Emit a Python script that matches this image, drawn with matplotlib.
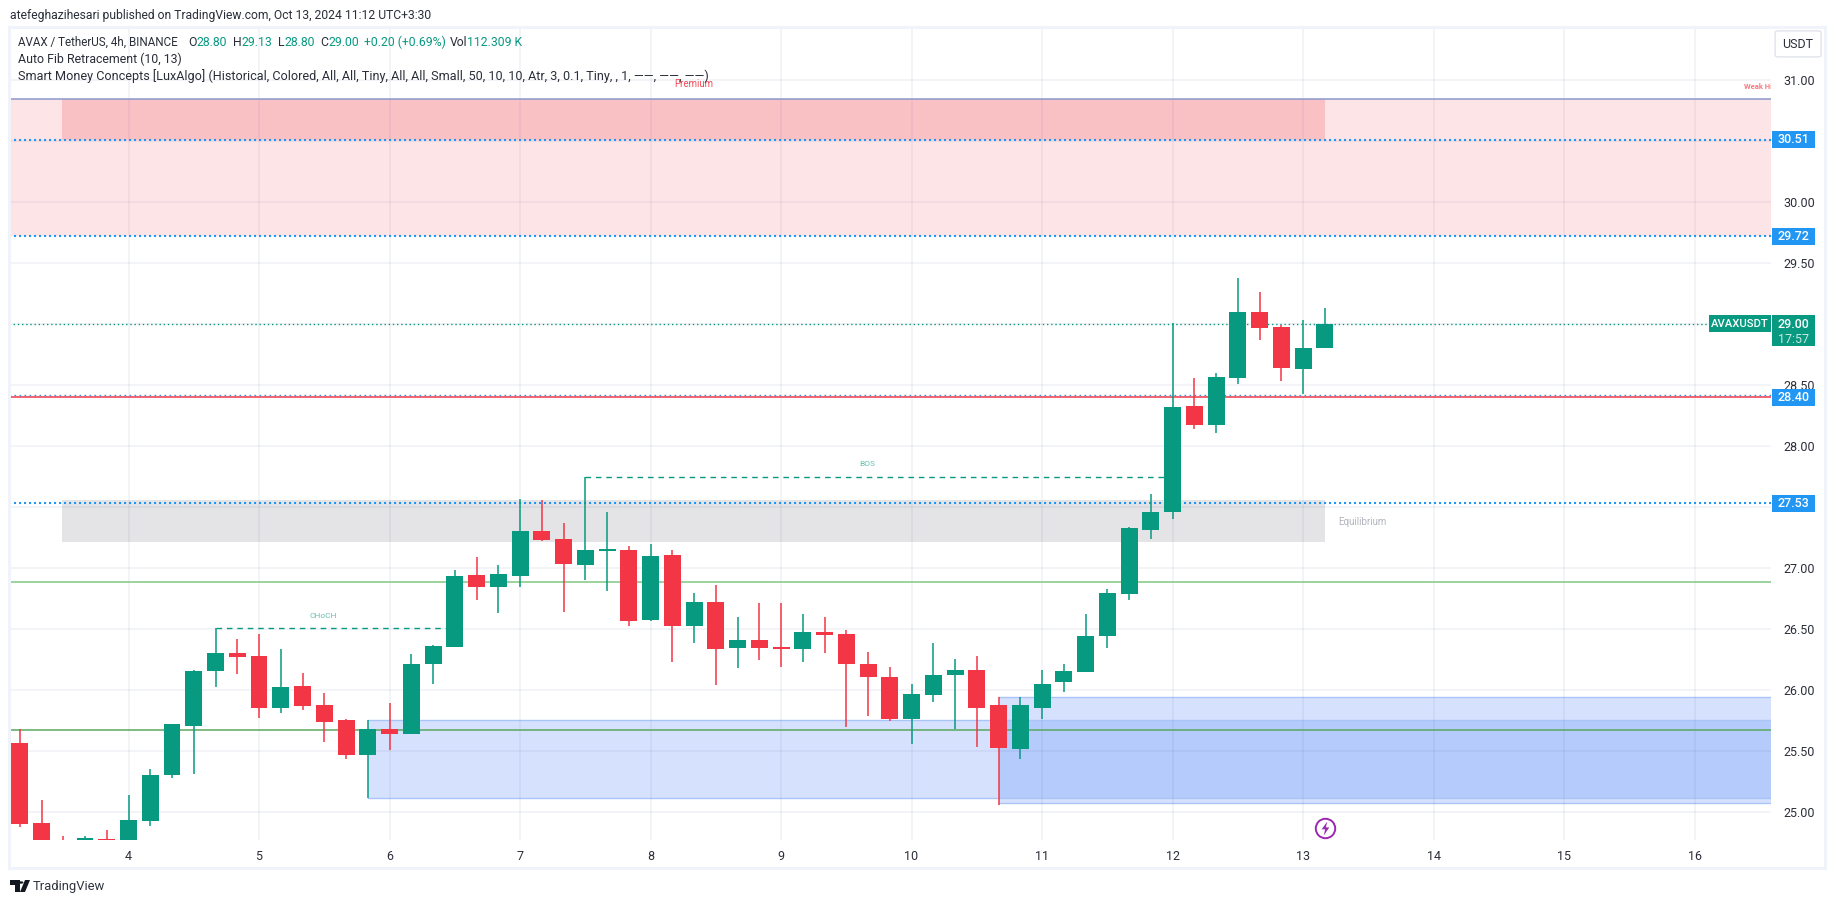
#!/usr/bin/env python3
# AVAX / USDT 4h chart, TradingView style
import numpy as np
import matplotlib
matplotlib.use('Agg')
import matplotlib.pyplot as plt
from matplotlib.patches import Rectangle, FancyBboxPatch, Polygon, Circle

plt.rcParams['font.family'] = ['Roboto', 'DejaVu Sans']

W, H = 1835, 903

# candles, one every 4 hours (6 per day), first one is day 3 + 4h
first_day = 3 + 1 / 6
opens = [25.565, 24.91, 24.74, 24.70, 24.78, 24.72, 24.926, 25.303, 25.705, 26.155,
         26.303, 26.278, 25.852, 26.032, 25.877, 25.754, 25.467, 25.68, 25.639, 26.213,
         26.352, 26.942, 26.844, 26.934, 27.303, 27.237, 27.024, 27.14, 27.147, 26.574,
         27.106, 26.524, 26.721, 26.344, 26.41, 26.352, 26.336, 26.475, 26.459, 26.213,
         26.106, 25.762, 25.959, 26.123, 26.164, 25.877, 25.516, 25.852, 26.065, 26.147,
         26.44, 26.787, 27.312, 27.459, 28.328, 28.173, 28.558, 29.099, 28.976, 28.632, 28.80]
highs = [25.677, 25.098, 24.80, 24.80, 24.852, 25.139, 25.352, 25.721, 26.164, 26.505,
         26.418, 26.459, 26.336, 26.139, 25.975, 25.762, 25.754, 25.893, 26.295, 26.369,
         26.983, 27.09, 27.024, 27.565, 27.557, 27.369, 27.743, 27.459, 27.18, 27.197,
         27.147, 26.795, 26.86, 26.598, 26.713, 26.713, 26.623, 26.598, 26.492, 26.311,
         26.188, 26.049, 26.385, 26.254, 26.279, 25.942, 25.942, 26.164, 26.213, 26.623,
         26.83, 27.336, 27.607, 29.009, 28.558, 28.599, 29.377, 29.263, 28.992, 29.033, 29.132]
lows = [24.88, 24.70, 24.55, 24.65, 24.70, 24.70, 24.885, 25.278, 25.311, 26.024,
        26.131, 25.77, 25.811, 25.836, 25.573, 25.434, 25.114, 25.508, 25.639, 26.049,
        26.352, 26.737, 26.631, 26.844, 27.221, 26.639, 26.90, 26.811, 26.524, 26.565,
        26.229, 26.385, 26.041, 26.18, 26.246, 26.188, 26.229, 26.303, 25.696, 25.787,
        25.746, 25.557, 25.902, 25.68, 25.533, 25.06, 25.434, 25.762, 25.983, 26.147,
        26.347, 26.738, 27.238, 27.402, 28.14, 28.107, 28.509, 28.869, 28.533, 28.427, 28.80]
closes = [24.904, 24.72, 24.60, 24.787, 24.75, 24.934, 25.303, 25.721, 26.155, 26.303,
          26.27, 25.852, 26.024, 25.869, 25.737, 25.467, 25.68, 25.639, 26.213, 26.36,
          26.934, 26.844, 26.95, 27.303, 27.229, 27.032, 27.147, 27.15, 26.565, 27.098,
          26.524, 26.721, 26.336, 26.41, 26.344, 26.336, 26.475, 26.451, 26.213, 26.106,
          25.762, 25.967, 26.123, 26.164, 25.852, 25.524, 25.877, 26.049, 26.156, 26.442,
          26.795, 27.328, 27.459, 28.32, 28.173, 28.566, 29.099, 28.968, 28.64, 28.804, 29.00]

price_ticks = [25, 25.5, 26, 26.5, 27, 27.5, 28, 28.5, 29, 29.5, 30, 30.5, 31]
# these three sit behind the coloured price tags
price_tick_labels = ['25.00', '25.50', '26.00', '26.50', '27.00', '', '28.00', '28.50', '', '29.50', '30.00', '', '31.00']
day_ticks = list(range(4, 17))

# levels and zones
fib_top = 30.847
premium_zone = (29.72, 30.847)
premium_block = (30.51, 30.847, 3.49, 13.17)
equilibrium_block = (27.214, 27.555, 3.49, 13.17)
demand_a = (25.117, 25.754, 5.833)
demand_b = (25.076, 25.94, 10.667)
fib_levels = [30.51, 29.72, 27.53]
fib_level_mid = 28.415
red_level = 28.40
green_light = 26.885
green_dark = 25.67
last_price = 29.00
choch = (4.667, 6.5, 26.505)
bos = (7.5, 12.0, 27.744)

GREEN = '#089981'
RED = '#f23645'
BLUE = '#2196f3'
GRID = '#f0f3fa'
TEXT = '#2a2e39'

# the extra 0.1 stops the pixel size being floored to 902
fig = plt.figure(figsize=((W + 0.1) / 100, (H + 0.1) / 100), dpi=100, facecolor='white')

def px(x, y):
    return x / W, 1 - y / H

# main pane
ax = fig.add_axes([9 / W, 1 - 840 / H, (1771 - 9) / W, (840 - 27) / H])
ax.set_xlim(4 + (9 - 128.5) / 130.5, 4 + (1771 - 128.5) / 130.5)
ax.set_ylim(31 - (840 - 80) / 122, 31 + (80 - 27) / 122)
for s in ax.spines.values():
    s.set_visible(False)

ax.yaxis.tick_right()
ax.set_yticks(price_ticks)
ax.set_yticklabels(price_tick_labels, fontsize=9, color=TEXT)
ax.set_xticks(day_ticks)
ax.set_xticklabels([str(d) for d in day_ticks], fontsize=9, color=TEXT)
ax.tick_params(axis='both', length=0)
ax.tick_params(axis='y', pad=9)
ax.tick_params(axis='x', pad=7)
ax.grid(True, color='#2a3a7a', alpha=0.07, lw=1.1)
ax.set_axisbelow('line')

# zones
xr = ax.get_xlim()[1]
ax.axhspan(premium_zone[0], premium_zone[1], color=RED, alpha=0.135, lw=0, zorder=1)
ax.add_patch(Rectangle((premium_block[2], premium_block[0]), premium_block[3] - premium_block[2],
                       premium_block[1] - premium_block[0], fc=RED, alpha=0.2, lw=0, zorder=1))
ax.add_patch(Rectangle((equilibrium_block[2], equilibrium_block[0]), equilibrium_block[3] - equilibrium_block[2],
                       equilibrium_block[1] - equilibrium_block[0], fc='#787b86', alpha=0.2, lw=0, zorder=1))
for low, top, start in (demand_a, demand_b):
    ax.add_patch(Rectangle((start, low), xr - start, top - low, fc='#2a6af5', ec='none', alpha=0.19, zorder=1))
    ax.plot([start, xr], [top, top], color='#a9c5f8', lw=1, zorder=1.2)
    ax.plot([start, xr], [low, low], color='#a9c5f8', lw=1, zorder=1.2)

# levels
ax.axhline(fib_top, color='#8c99cc', lw=1.1, zorder=2)
ax.axhline(green_light, color='#81c784', lw=1.1, zorder=2)
ax.axhline(green_dark, color='#5aa85f', lw=1.1, zorder=2)
ax.axhline(red_level, color=RED, lw=1.1, zorder=2)
ax.axhline(fib_level_mid, color='#3f8fe0', lw=1, ls=(0, (1.2, 2.4)), zorder=2.1)
for lev in fib_levels:
    ax.axhline(lev, color=BLUE, lw=1.5, ls=(0, (1, 1.4)), zorder=2)
ax.axhline(last_price, color=GREEN, lw=1, ls=(0, (1, 2)), zorder=2)

# structure lines
ax.plot(choch[:2], [choch[2]] * 2, color=GREEN, lw=1, ls=(0, (4, 3.5)), zorder=2)
ax.plot(bos[:2], [bos[2]] * 2, color=GREEN, lw=1, ls=(0, (4, 3.5)), zorder=2)

# candles
o = np.array(opens)
c = np.array(closes)
days = first_day + np.arange(len(o)) / 6
cols = [GREEN if b >= a else RED for a, b in zip(o, c)]
ax.vlines(days, lows, highs, colors=cols, lw=1.1, zorder=3)
ax.bar(days, np.maximum(np.abs(c - o), 0.012), bottom=np.minimum(o, c), width=0.13, color=cols, lw=0, zorder=3.1)

# labels inside the pane
ax.text(4 + (323 - 128.5) / 130.5, choch[2] + 0.105, 'CHoCH', color='#66c2b0', fontsize=6, ha='center', va='center')
ax.text(4 + (867 - 128.5) / 130.5, bos[2] + 0.105, 'BOS', color='#66c2b0', fontsize=6, ha='center', va='center')
ax.text(4 + (1362 - 128.5) / 130.5, 27.38, 'Equilibrium', color='#b2b5be', fontsize=7, ha='center', va='center')
ax.text(4 + (694 - 128.5) / 130.5, 30.97, 'Premium', color=RED, fontsize=7, ha='center', va='center', alpha=0.9)
ax.text(4 + (1744 - 128.5) / 130.5, 30.95, 'Weak High', color='#f77c80', fontsize=5.5, ha='left', va='center',
        clip_on=True, fontweight='bold')

# lightning mark
bolt = [(0.25, 1), (-0.55, -0.12), (-0.05, -0.12), (-0.25, -1), (0.55, 0.16), (0.05, 0.16)]
ax.plot([13.167], [24.865], marker='o', ms=14, mfc='white', mec='#9c27b0', mew=1.4, zorder=4)
ax.plot([13.167], [24.865], marker=bolt, ms=10, mfc='#9c27b0', mew=0, zorder=5)

# price tags on the axis
trans = ax.get_yaxis_transform()
tag_w = 43 / 1762
tag_h = 17 / 122
def price_tag(val, label, col):
    ax.add_patch(Rectangle((1 + 1 / 1762, val - tag_h / 2), tag_w, tag_h, transform=trans, fc=col, lw=0,
                           clip_on=False, zorder=10))
    ax.text(1 + 1 / 1762 + tag_w / 2, val, label, transform=trans, color='white', fontsize=9, fontweight='medium',
            ha='center', va='center', clip_on=False, zorder=11)

for lev, lab in ((30.51, '30.51'), (29.72, '29.72'), (28.40, '28.40'), (27.53, '27.53')):
    price_tag(lev, lab, BLUE)

ax.add_patch(Rectangle((1 + 1 / 1762, last_price - tag_h / 2 - 14 / 122), tag_w, tag_h + 14 / 122, transform=trans,
                       fc=GREEN, lw=0, clip_on=False, zorder=10))
ax.text(1 + 1 / 1762 + tag_w / 2, last_price, '29.00', transform=trans, color='white', fontsize=9, fontweight='medium',
        ha='center', va='center', clip_on=False, zorder=11)
ax.text(1 + 1 / 1762 + tag_w / 2, last_price - 15 / 122, '17:57', transform=trans, color='#c8e8e0', fontsize=9,
        ha='center', va='center', clip_on=False, zorder=11)
ax.add_patch(Rectangle((1 - 62 / 1762, last_price - tag_h / 2), 62 / 1762, tag_h, transform=trans, fc=GREEN, lw=0,
                       zorder=10))
ax.text(1 - 31 / 1762, last_price, 'AVAXUSDT', transform=trans, color='white', fontsize=8.1, fontweight='medium',
        ha='center', va='center', zorder=11)

# outer frame
fx, fy = px(9, 868)
fig.add_artist(Rectangle((fx, fy), 1816 / W, 841 / H, transform=fig.transFigure, fc='none', ec=GRID, lw=2.2))

# USDT button
bx, by = px(1775, 57)
fig.add_artist(FancyBboxPatch((bx, by), 46 / W, 26 / H, boxstyle='round,pad=0,rounding_size=0.002',
                              transform=fig.transFigure, fc='white', ec='#e0e3eb', lw=1))
fig.text(*px(1798, 44), 'USDT', fontsize=9, color=TEXT, ha='center', va='center')

# header text
fig.text(*px(10, 15), 'atefeghazihesari published on TradingView.com, Oct 13, 2024 11:12 UTC+3:30',
         fontsize=8.7, color=TEXT, va='center')
fig.text(*px(18, 42), 'AVAX / TetherUS, 4h, BINANCE', fontsize=8.4, color=TEXT, va='center')
legend_bits = [(188, 'O', TEXT), (196, '28.80', GREEN),
               (233, 'H', TEXT), (241, '29.13', GREEN), (278, 'L', TEXT), (284, '28.80', GREEN),
               (320, 'C', TEXT), (328, '29.00', GREEN), (364, '+0.20 (+0.69%)', GREEN),
               (450, 'Vol', TEXT), (467, '112.309 K', GREEN)]
for x0, s, col in legend_bits:
    fig.text(*px(x0, 42), s, fontsize=8.8, color=col, va='center')
fig.text(*px(18, 59), 'Auto Fib Retracement (10, 13)', fontsize=8.9, color=TEXT, va='center')
fig.text(*px(18, 76), 'Smart Money Concepts [LuxAlgo] (Historical, Colored, All, All, Tiny, All, All, Small, 50, 10, 10, '
         'Atr, 3, 0.1, Tiny, , 1, \u2014\u2014, \u2014\u2014, \u2014\u2014)', fontsize=9.1, color=TEXT, va='center')

# footer logo
logo = '#131722'
fig.add_artist(Polygon([px(10, 880), px(20, 880), px(20, 892), px(15, 892), px(15, 885), px(10, 885)],
                       transform=fig.transFigure, fc=logo, lw=0))
fig.add_artist(Polygon([px(25, 880), px(30, 880), px(25, 892), px(20, 892)], transform=fig.transFigure, fc=logo, lw=0))
fig.add_artist(Circle(px(21, 882.5), 2.4 / W, transform=fig.transFigure, fc=logo, lw=0))
fig.text(*px(33, 886), 'TradingView', fontsize=9.4, color='#30343f', va='center')

fig.savefig('out.png', dpi=100)
